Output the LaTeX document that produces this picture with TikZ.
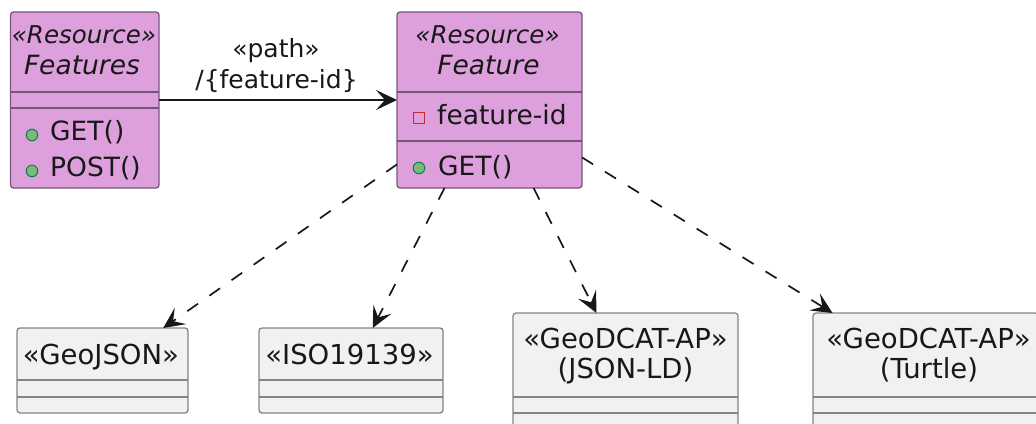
\documentclass[tikz,border=0pt]{standalone}
\usepackage{fontspec}
\setmainfont{DejaVu Sans}
\usetikzlibrary{arrows.meta,calc}
\definecolor{resfill}{HTML}{DDA0DD}
\definecolor{fmtfill}{HTML}{F1F1F1}
\definecolor{resline}{HTML}{76577A}
\definecolor{fmtline}{HTML}{858585}
\definecolor{pubfill}{HTML}{7DB97D}
\definecolor{publine}{HTML}{038048}
\definecolor{privline}{HTML}{C82930}
\definecolor{ink}{HTML}{181818}

\begin{document}
\begin{tikzpicture}[x=1pt,y=-1pt,
  box/.style={rounded corners=3pt, line width=1.3pt, inner sep=0pt, outer sep=0pt},
  resbox/.style={box, draw=resline, fill=resfill},
  fmtbox/.style={box, draw=fmtline, fill=fmtfill},
  ressep/.style={line width=1.3pt, draw=resline},
  fmtsep/.style={line width=1.3pt, draw=fmtline},
  stereo/.style={font=\fontsize{24.5}{29}\selectfont\itshape, text=ink, inner sep=0pt, anchor=base},
  title/.style={font=\fontsize{26.5}{31}\selectfont\itshape, text=ink, inner sep=0pt, anchor=base},
  member/.style={font=\fontsize{26.5}{31}\selectfont, text=ink, inner sep=0pt, anchor=base west},
  fmttext/.style={font=\fontsize{27.5}{31}\selectfont, text=ink, inner sep=0pt, anchor=base},
  lbl/.style={font=\fontsize{25}{31}\selectfont, text=ink, inner sep=0pt, anchor=base},
  pub/.style={circle, draw=publine, fill=pubfill, line width=1pt, minimum size=11.5pt, inner sep=0pt},
  priv/.style={rectangle, draw=privline, line width=1.3pt, minimum size=11.5pt, inner sep=0pt},
  link/.style={draw=ink, line width=1.7pt, -{Stealth[length=21pt,width=20pt,inset=9pt]}},
  dep/.style={link, dash pattern=on 13pt off 14pt},
]
\useasboundingbox (0,0) rectangle (1036,423);
\fill[white] (0,0) rectangle (1036,423);
\clip (0,0) rectangle (1036,423);

% --- resource classes ---
\node[resbox, minimum width=148.5pt, minimum height=176pt] (features) at (84.75,100) {};
\draw[ressep] ($(features.north west)+(0,80)$) -- ($(features.north east)+(0,80)$);
\draw[ressep] ($(features.north west)+(0,96)$) -- ($(features.north east)+(0,96)$);
\node[stereo] (featuresStereo) at (84,43) {«Resource»};
\node[title] (featuresName) at (82,74) {Features};
\node[pub] (featuresGetIcon) at (32,135) {};
\node[member] (featuresGet) at (50,140) {GET()};
\node[pub] (featuresPostIcon) at (32,171) {};
\node[member] (featuresPost) at (50,176) {POST()};

\node[resbox, minimum width=185pt, minimum height=176pt] (feature) at (489.5,100) {};
\draw[ressep] ($(feature.north west)+(0,80)$) -- ($(feature.north east)+(0,80)$);
\draw[ressep] ($(feature.north west)+(0,129)$) -- ($(feature.north east)+(0,129)$);
\node[stereo] (featureStereo) at (487.5,43) {«Resource»};
\node[title] (featureName) at (488.5,74) {Feature};
\node[priv] (featureIdIcon) at (419,118) {};
\node[member] (featureId) at (437,124) {feature-id};
\node[pub] (featureGetIcon) at (419,168) {};
\node[member] (featureGet) at (438,175) {GET()};

% --- representation formats ---
\node[fmtbox, minimum width=171pt, minimum height=85pt] (geojson) at (102.5,370.5) {};
\draw[fmtsep] ($(geojson.north west)+(0,52)$) -- ($(geojson.north east)+(0,52)$);
\draw[fmtsep] ($(geojson.north west)+(0,69)$) -- ($(geojson.north east)+(0,69)$);
\node[fmttext] (geojsonName) at (101,364) {«GeoJSON»};

\node[fmtbox, minimum width=184pt, minimum height=85pt] (iso) at (351,370.5) {};
\draw[fmtsep] ($(iso.north west)+(0,52)$) -- ($(iso.north east)+(0,52)$);
\draw[fmtsep] ($(iso.north west)+(0,69)$) -- ($(iso.north east)+(0,69)$);
\node[fmttext] (isoName) at (349.5,364) {«ISO19139»};

\node[fmtbox, minimum width=225pt, minimum height=116pt] (jsonld) at (625.5,371) {};
\draw[fmtsep] ($(jsonld.north west)+(0,84)$) -- ($(jsonld.north east)+(0,84)$);
\draw[fmtsep] ($(jsonld.north west)+(0,100)$) -- ($(jsonld.north east)+(0,100)$);
\node[fmttext] (jsonldStereo) at (625.5,348.5) {«GeoDCAT-AP»};
\node[fmttext] (jsonldName) at (625.5,378) {(JSON-LD)};

\node[fmtbox, minimum width=225pt, minimum height=116pt] (turtle) at (925.5,371) {};
\draw[fmtsep] ($(turtle.north west)+(0,84)$) -- ($(turtle.north east)+(0,84)$);
\draw[fmtsep] ($(turtle.north west)+(0,100)$) -- ($(turtle.north east)+(0,100)$);
\node[fmttext] (turtleStereo) at (928.5,348.5) {«GeoDCAT-AP»};
\node[fmttext] (turtleName) at (929,378) {(Turtle)};

% --- connectors ---
\draw[link] (features) -- (feature);
\node[lbl] (pathStereo) at (276,57) {«path»};
\node[lbl] (pathId) at (276.5,88) {/\{feature-id\}};

\draw[dep] (feature) -- (geojson);
\draw[dep] (feature) -- (iso);
\draw[dep] (feature) -- (jsonld);
\draw[dep] (feature) -- (turtle);
\end{tikzpicture}
\end{document}
